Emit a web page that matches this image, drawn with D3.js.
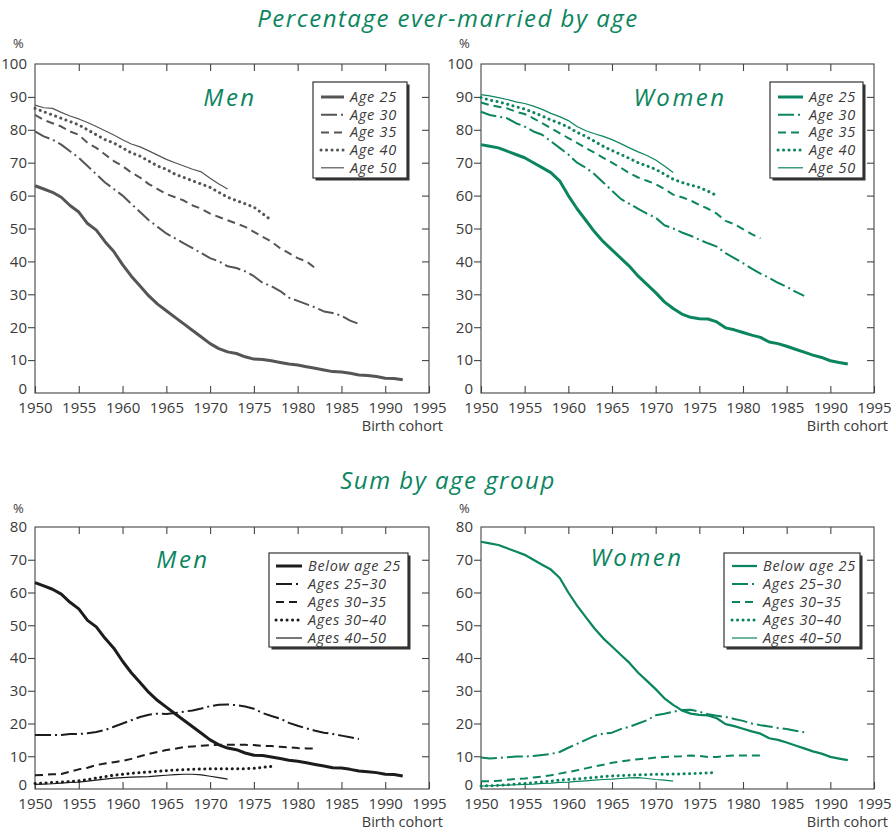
<!DOCTYPE html>
<html>
<head>
<meta charset="utf-8">
<script src="https://cdn.jsdelivr.net/npm/d3@7/dist/d3.min.js"></script>
<style>
body { margin: 0; background: #fff; }
text { font-family: "Open Sans", sans-serif; fill: #3a3a3a; }
</style>
</head>
<body>
<script>
// ever-married percentages, one value per birth cohort from 1950
const menAge25 = [63, 62, 61, 59.5, 57, 55, 51.5, 49.5, 46, 43, 39, 35.5, 32.5, 29.5, 27, 25, 23, 21, 19, 17,
    15, 13.5, 12.5, 12, 11, 10.3, 10.2, 9.8, 9.3, 8.8, 8.5, 8, 7.5, 7, 6.5, 6.4, 6, 5.5, 5.3, 5, 4.5, 4.4, 4]
const menAge30 = [79.5, 78, 77, 75.5, 73.5, 71.5, 69, 66.5, 64, 62, 60, 57.5, 55, 52.5, 50.5, 48.5, 47, 45.5, 44, 42.5,
    41, 40, 38.5, 38, 37, 35.5, 33.5, 32.5, 31, 29, 28, 27, 26, 24.8, 24.3, 23.5, 22, 21]
const menAge35 = [84.5, 83, 82, 81, 79.5, 78.5, 76, 74.5, 72.5, 70.5, 69, 67, 65.5, 63.5, 62, 60.5, 59.5, 58.5, 57, 56,
    54.5, 53.5, 52.5, 51.5, 50.5, 49, 47.5, 46, 44, 42.5, 41, 40, 38]
const menAge40 = [86.5, 85.5, 84.5, 83.5, 82.5, 81.5, 80, 78.5, 77, 76, 74.5, 73, 72, 70.5, 69, 68, 66.5, 65.5, 64.5, 63.5,
    62.5, 61, 59.5, 58.5, 57.5, 56.5, 54.5, 52.5]
const menAge50 = [87.5, 86.7, 86.5, 85.3, 84.2, 83.3, 82.2, 81, 79.7, 78.4, 77, 75.7, 74.8, 73.6, 72.3, 71, 70, 69, 68, 67.2,
    65.3, 63.5, 62]

const womenAge25 = [75.5, 75, 74.5, 73.5, 72.5, 71.5, 70, 68.5, 67, 64.5, 60, 56, 52.5, 49, 46, 43.5, 41, 38.5, 35.5, 33,
    30.5, 27.7, 25.7, 24, 23, 22.6, 22.5, 21.6, 19.8, 19.2, 18.4, 17.6, 16.9, 15.5, 15, 14.2, 13.3, 12.4, 11.5, 10.8, 9.8, 9.3, 8.8]
const womenAge30 = [85.5, 84.5, 84, 83.5, 82, 81, 79.5, 78.5, 76.5, 74.5, 72.5, 70, 68.5, 66.5, 64, 61.5, 59, 57.5, 56, 54.5,
    53.3, 51, 50, 48.8, 47.8, 46.6, 45.5, 44.5, 42.5, 41, 39.5, 37.8, 36.3, 35, 33.5, 32.3, 30.8, 29.5]
const womenAge35 = [88.3, 87.5, 87, 86.5, 85.5, 84.8, 83.5, 82, 80.5, 79, 77.5, 76, 74.5, 73, 71.5, 70, 68.5, 66.8, 65.5, 64.5,
    63.5, 62, 60.3, 59.5, 58.5, 57.2, 56, 54.5, 52.3, 51.3, 49.8, 48.3, 47]
const womenAge40 = [89.8, 89, 88.5, 87.8, 87, 86.3, 85.3, 84.2, 83, 82, 80.8, 79.2, 78, 76.5, 75, 73.7, 72.5, 71.3, 70, 69,
    68, 66.5, 65, 64, 63.2, 62.5, 61.3, 60]
const womenAge50 = [90.7, 90.3, 89.8, 89.2, 88.5, 88, 87.2, 86.2, 85, 84, 82.8, 81, 79.7, 78.8, 78, 77, 75.8, 74.5, 73.3, 72.2,
    70.8, 69, 67]

// sums by age group (below 25 is the age 25 series)
const menAges25to30 = [16.5, 16.5, 16.5, 16.5, 16.8, 16.8, 17, 17.4, 18, 19, 20, 21, 22, 22.7, 23, 22.9, 23.2, 23.6, 24, 24.6,
    25.3, 25.7, 25.8, 25.6, 25.2, 24.5, 23.2, 22.3, 21.5, 20.2, 19.3, 18.5, 17.8, 17.2, 16.8, 16.3, 15.8, 15.3]
const menAges30to35 = [4.2, 4.3, 4.5, 4.6, 5.3, 6, 6.5, 7.3, 7.8, 8.2, 8.6, 9.2, 10, 10.7, 11.3, 11.9, 12.3, 12.8, 13, 13.2,
    13.4, 13.5, 13.5, 13.5, 13.5, 13.4, 13.2, 13.1, 12.9, 12.7, 12.5, 12.4, 12.4]
const menAges30to40 = [1.7, 1.8, 2, 2.1, 2.3, 2.5, 2.9, 3.3, 3.8, 4.2, 4.5, 4.8, 5, 5.2, 5.4, 5.6, 5.8, 5.9, 6, 6.1,
    6.2, 6.2, 6.2, 6.2, 6.2, 6.3, 6.6, 6.9]
const menAges40to50 = [1.4, 1.5, 1.6, 1.8, 2, 2.1, 2.4, 2.7, 3, 3.3, 3.5, 3.6, 3.7, 3.8, 4, 4.2, 4.4, 4.5, 4.5, 4.3,
    3.9, 3.5, 3]

const womenAges25to30 = [9.6, 9.3, 9.5, 9.7, 9.9, 9.9, 10.1, 10.4, 10.7, 11.3, 12.6, 13.8, 15, 16.2, 16.9, 17.2, 18.3, 19, 20, 21,
    22.5, 23, 23.6, 24.1, 24.2, 23.6, 22.8, 22.4, 22, 21.4, 20.8, 20, 19.5, 19.1, 18.6, 18.3, 17.8, 17.3]
const womenAges30to35 = [2.4, 2.4, 2.5, 2.8, 3.1, 3.2, 3.5, 3.8, 4.2, 4.7, 5.2, 5.7, 6.3, 6.9, 7.4, 8, 8.4, 8.8, 9.1, 9.3,
    9.6, 9.8, 9.9, 10, 10.2, 10.1, 9.8, 9.8, 10.1, 10.2, 10.2, 10.2, 10.2]
const womenAges30to40 = [0.9, 1, 1.1, 1.3, 1.5, 1.7, 1.9, 2.2, 2.4, 2.7, 2.9, 3.1, 3.3, 3.5, 3.8, 4, 4.1, 4.2, 4.3, 4.4,
    4.5, 4.5, 4.6, 4.6, 4.7, 4.8, 4.9, 5]
const womenAges40to50 = [0.9, 1, 1.1, 1.2, 1.3, 1.4, 1.5, 1.7, 1.8, 2, 2.1, 2.3, 2.5, 2.7, 2.9, 3, 3.2, 3.4, 3.5, 3.2,
    2.9, 2.7, 2.4]

const firstCohort = 1950
const xTicks = [1950, 1955, 1960, 1965, 1970, 1975, 1980, 1985, 1990, 1995]
const topNames = ['Age 25', 'Age 30', 'Age 35', 'Age 40', 'Age 50']
const bottomNames = ['Below age 25', 'Ages 25–30', 'Ages 30–35', 'Ages 30–40', 'Ages 40–50']
const titles = ['Percentage ever-married by age', 'Sum by age group']

const green = '#0b8560'
const lineStyles = [
    { w: 3, dash: null, cap: 'butt' },
    { w: 2, dash: '16,4,2,4', cap: 'butt' },
    { w: 2, dash: '8,5', cap: 'butt' },
    { w: 3, dash: '0.1,5.4', cap: 'round' },
    { w: 1.2, dash: null, cap: 'butt' }
]

const svg = d3.select('body').append('svg')
    .attr('width', 894)
    .attr('height', 830)

const panels = [
    { xr: [35, 429], yr: [393, 64], max: 100, color: '#555', key: 'Men', keyX: 230, keyY: 106,
      legend: { x: 313, y: 82, w: 94, h: 96, lx: 321, lw: 23, row0: 97, step: 17.7 },
      names: topNames, data: [menAge25, menAge30, menAge35, menAge40, menAge50], thick: 1, pctY: 48 },
    { xr: [481, 874], yr: [393, 64], max: 100, color: green, key: 'Women', keyX: 680, keyY: 106,
      legend: { x: 770, y: 82, w: 93, h: 96, lx: 778, lw: 25, row0: 97, step: 17.7 },
      names: topNames, data: [womenAge25, womenAge30, womenAge35, womenAge40, womenAge50], thick: 1, pctY: 48 },
    { xr: [35, 429], yr: [789, 527], max: 80, color: '#1c1c1c', key: 'Men', keyX: 183, keyY: 568,
      legend: { x: 269, y: 553, w: 139, h: 94, lx: 276, lw: 26, row0: 566, step: 18 },
      names: bottomNames, data: [menAge25, menAges25to30, menAges30to35, menAges30to40, menAges40to50], thick: 1, pctY: 513 },
    { xr: [481, 874], yr: [789, 527], max: 80, color: green, key: 'Women', keyX: 637, keyY: 566,
      legend: { x: 724, y: 553, w: 136, h: 94, lx: 732, lw: 25, row0: 566, step: 18 },
      names: bottomNames, data: [womenAge25, womenAges25to30, womenAges30to35, womenAges30to40, womenAges40to50], thick: 0.75, pctY: 513 }
]

// section titles
titles.forEach((t, i) => {
    svg.append('text').attr('x', 448).attr('y', i === 0 ? 27 : 489).attr('text-anchor', 'middle')
        .style('font-size', '24px').style('font-style', 'italic').style('fill', green)
        .style('letter-spacing', '1.5px')
        .text(t)
})

panels.forEach(p => {
    const x = d3.scaleLinear().domain([1950, 1995]).range(p.xr)
    const y = d3.scaleLinear().domain([0, p.max]).range(p.yr)
    const yTicks = d3.range(0, p.max + 1, 10)
    const inner = yTicks.filter(t => t > 0 && t < p.max)
    const g = svg.append('g')

    const fmt = d3.format('d')
    const ax = g.append('g').attr('class', 'axes')
    ax.append('g').attr('class', 'y-left').attr('transform', `translate(${p.xr[0]},0)`)
        .call(d3.axisLeft(y).tickValues(yTicks).tickSize(7).tickSizeOuter(0).tickPadding(1).tickFormat(fmt))
    ax.append('g').attr('transform', `translate(${p.xr[1]},0)`)
        .call(d3.axisRight(y).tickValues(inner).tickSize(-7).tickSizeOuter(0).tickFormat(''))
    ax.append('g').attr('transform', `translate(0,${p.yr[0]})`)
        .call(d3.axisBottom(x).tickValues(xTicks).tickSize(-7).tickSizeOuter(0).tickPadding(9).tickFormat(fmt))
    ax.append('g').attr('transform', `translate(0,${p.yr[1]})`)
        .call(d3.axisTop(x).tickValues(xTicks.slice(1, -1)).tickSize(-7).tickSizeOuter(0).tickFormat(''))
    ax.selectAll('.domain').remove()
    ax.selectAll('.tick line').attr('stroke', '#444').attr('stroke-width', 1.1)
    ax.selectAll('.tick text').style('font-size', '15px').style('fill', '#3a3a3a').attr('font-family', null)
    // first and last y ticks sit on the frame corners
    ax.selectAll('.y-left .tick line').filter(d => d === 0 || d === p.max).remove()
    // the zero label sits a little above the corner
    ax.selectAll('.y-left .tick text').filter(d => d === 0).attr('y', -4)

    g.append('rect')
        .attr('x', p.xr[0]).attr('y', p.yr[1])
        .attr('width', p.xr[1] - p.xr[0]).attr('height', p.yr[0] - p.yr[1])
        .attr('fill', 'none').attr('stroke', '#444').attr('stroke-width', 1.1)

    g.append('text').attr('x', p.xr[0] - 22).attr('y', p.pctY).style('font-size', '13px').text('%')
    g.append('text').attr('x', p.xr[1] + 14).attr('y', p.yr[0] + 38).attr('text-anchor', 'end')
        .style('font-size', '14.5px').text('Birth cohort')

    // lines
    const line = d3.line()
        .x(d => x(d[0]))
        .y(d => y(d[1]))
        .curve(d3.curveLinear)
    p.data.forEach((vals, i) => {
        const s = lineStyles[i]
        g.append('path')
            .datum(vals.map((v, j) => [firstCohort + j, v]))
            .attr('d', line)
            .attr('fill', 'none')
            .attr('stroke', p.color)
            .attr('stroke-width', i === 0 ? s.w * p.thick : s.w)
            .attr('stroke-dasharray', s.dash)
            .attr('stroke-linecap', s.cap)
            .attr('stroke-linejoin', 'round')
    })

    g.append('text').attr('x', p.keyX).attr('y', p.keyY).attr('text-anchor', 'middle')
        .style('font-size', '24px').style('font-style', 'italic').style('fill', green)
        .style('letter-spacing', '2.5px')
        .text(p.key)

    // legend box with drop shadow
    const L = p.legend
    const lg = g.append('g').attr('class', 'legend')
    lg.append('rect').attr('x', L.x + 2.5).attr('y', L.y + 2.5).attr('width', L.w).attr('height', L.h).attr('fill', '#333')
    lg.append('rect').attr('x', L.x).attr('y', L.y).attr('width', L.w).attr('height', L.h)
        .attr('fill', '#fff').attr('stroke', '#333').attr('stroke-width', 1.2)
    p.names.forEach((name, i) => {
        const s = lineStyles[i]
        const cy = L.row0 + i * L.step
        lg.append('line')
            .attr('x1', L.lx).attr('x2', L.lx + L.lw)
            .attr('y1', cy).attr('y2', cy)
            .attr('stroke', p.color)
            .attr('stroke-width', i === 0 ? s.w * p.thick : s.w)
            .attr('stroke-dasharray', s.dash)
            .attr('stroke-linecap', s.cap)
        lg.append('text')
            .attr('x', L.lx + L.lw + 6).attr('y', cy + 5)
            .style('font-size', '14.5px').style('font-style', 'italic')
            .style('letter-spacing', '0.7px')
            .text(name)
    })
})
</script>
</body>
</html>
